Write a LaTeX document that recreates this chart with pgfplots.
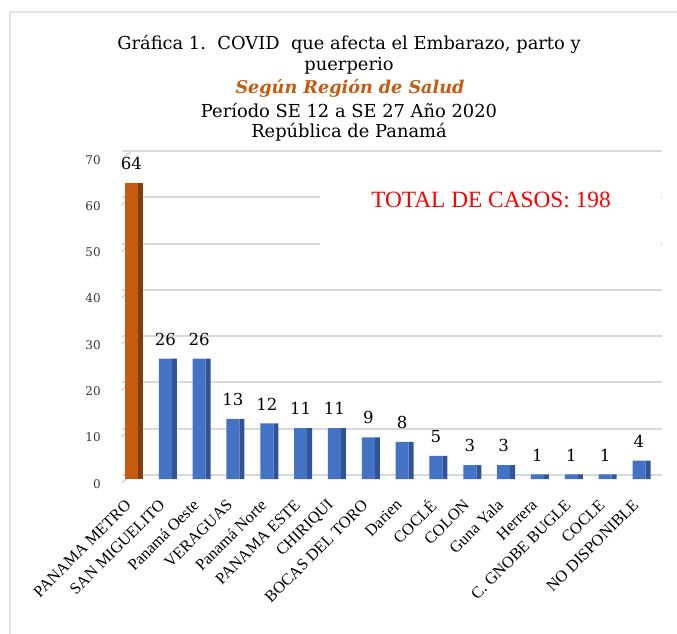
\documentclass[border=0pt]{standalone}
\usepackage{pgfplots}
\pgfplotsset{compat=1.18}
\usepackage{fontspec}
\setmainfont{Liberation Serif}
\newfontfamily\dvs{DejaVu Serif}
\definecolor{barblue}{HTML}{4472C4}
\definecolor{barblueside}{HTML}{2F5597}
\definecolor{barorange}{HTML}{C55A11}
\definecolor{barorangeside}{HTML}{843C0C}
\definecolor{gridgray}{HTML}{D9D9D9}
\definecolor{titleorange}{HTML}{C55A11}
\pgfplotstableread{
x y
1 26
2 26
3 13
4 12
5 11
6 11
7 9
8 8
9 5
10 3
11 3
12 1
13 1
14 1
15 4
}\bluedata
\pgfplotstableread{
x y
0 64
}\orangedata
\begin{document}
\begin{tikzpicture}
\begin{scope}[x=0.75pt,y=-0.75pt]
\path[use as bounding box] (0,0) rectangle (677,633);
\begin{scope}
\clip (0,0) rectangle (677,633);
\draw[gray!22, line width=1.5pt] (10,12) rectangle (720,700);
\end{scope}
\node[font=\dvs\fontsize{13.4}{15}\selectfont] at (349,44) {Gráfica 1.\ \ COVID\ \ que afecta el Embarazo, parto y};
\node[font=\dvs\fontsize{13.4}{15}\selectfont] at (349,65.5) {puerperio};
\node[font=\dvs\bfseries\itshape\fontsize{13.2}{15}\selectfont, text=titleorange] at (350,88) {Según Región de Salud};
\node[font=\dvs\fontsize{13.4}{15}\selectfont] at (349,110) {Período SE 12 a SE 27 Año 2020};
\node[font=\dvs\fontsize{13.4}{15}\selectfont] at (349,132) {República de Panamá};
\end{scope}
\begin{axis}[
  at={(91.5pt,-359.25pt)}, anchor=south west,
  scale only axis, width=405pt, height=243pt,
  xmin=-0.28, xmax=15.68, ymin=0, ymax=70,
  axis line style={draw=none}, tick style={draw=none},
  /pgf/number format/assume math mode=true,
  ymajorgrids, grid style={gridgray, line width=1.5pt, yshift=3pt},
  ytick={0,10,...,70},
  yticklabel style={font=\dvs\fontsize{9}{9}\selectfont, text=black!80, yshift=-3.5pt, xshift=-12.4pt},
  xtick={0,...,15},
  xticklabels={PANAMA METRO, SAN MIGUELITO, Panamá Oeste, VERAGUAS, Panamá Norte, PANAMA ESTE, CHIRIQUI, BOCAS DEL TORO, Darien, COCLÉ, COLON, Guna Yala, Herrera, C. GNOBE BUGLE, COCLE, NO DISPONIBLE},
  xticklabel style={rotate=45, anchor=east, font=\fontsize{12.2}{14}\selectfont},
  xticklabel shift=15pt,
  nodes near coords style={font=\dvs\fontsize{12.4}{14}\selectfont, text=black, yshift=6.5pt},
  clip=false,
]
\pgfplotsinvokeforeach{0,10,...,70}{
  \draw[gridgray, line width=1.2pt] (axis cs:-0.28,#1) ++(0,3pt) -- ++(-7.5pt,-6pt);
}
\addplot[ybar, bar width=3.75pt, bar shift=6.75pt, fill=barblueside, draw=none] table[x=x,y=y]{\bluedata};
\addplot[ybar, bar width=3.75pt, bar shift=6.75pt, fill=barorangeside, draw=none] table[x=x,y=y]{\orangedata};
\addplot[ybar, bar width=9.75pt, bar shift=0pt, fill=barblue, draw=none, nodes near coords] table[x=x,y=y]{\bluedata};
\addplot[ybar, bar width=9.75pt, bar shift=0pt, fill=barorange, draw=none, nodes near coords] table[x=x,y=y]{\orangedata};
\end{axis}
\begin{scope}[x=0.75pt,y=-0.75pt]
\fill[white] (320,186) rectangle (661,258);
\node[font=\fontsize{17.5}{19}\selectfont, text=red] at (491,200) {TOTAL DE CASOS: 198};
\end{scope}
\end{tikzpicture}
\end{document}
